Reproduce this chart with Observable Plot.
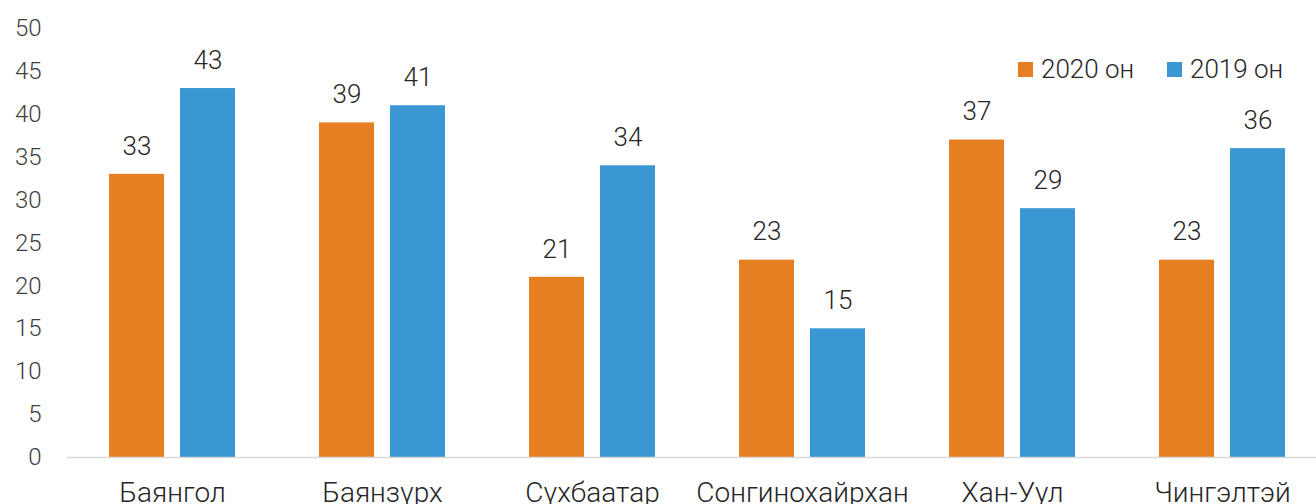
<!DOCTYPE html>
<html>
<head>
<meta charset="utf-8">
<script src="https://cdn.jsdelivr.net/npm/d3@7"></script>
<script src="https://cdn.jsdelivr.net/npm/@observablehq/plot@0.6"></script>
<style>
  html, body { margin: 0; padding: 0; background: #fff; }
  #wrap { position: relative; width: 1316px; height: 504px; overflow: hidden; font-family: Roboto, sans-serif; }
  .leg { position: absolute; top: 54px; display: flex; align-items: center; font-size: 26px; color: #262626; font-weight: 300; }
  .sw { width: 15px; height: 15px; margin-right: 8px; }
</style>
</head>
<body>
<div id="wrap"></div>
<script>
const categories = ["Баянгол", "Баянзүрх", "Сүхбаатар", "Сонгинохайрхан", "Хан-Уул", "Чингэлтэй"];
const seriesNames = ["2020 он", "2019 он"];
const values2020 = [33, 39, 21, 23, 37, 23];
const values2019 = [43, 41, 34, 15, 29, 36];
const yTicks = [0, 5, 10, 15, 20, 25, 30, 35, 40, 45, 50];
const colors = ["#E67E22", "#3B97D3"];

const data = [];
categories.forEach((c, i) => {
  data.push({cat: c, series: seriesNames[0], value: values2020[i]});
  data.push({cat: c, series: seriesNames[1], value: values2019[i]});
});

const chart = Plot.plot({
  width: 1316,
  height: 504,
  marginLeft: 66,
  marginRight: -12,
  marginTop: 28,
  marginBottom: 47,
  style: {fontFamily: "Roboto, sans-serif", background: "#fff", color: "#404040"},
  fx: {domain: categories, padding: 0, label: null},
  x: {domain: seriesNames, paddingInner: 0.219, paddingOuter: 0.576, axis: null},
  y: {domain: [0, 50], label: null},
  color: {domain: seriesNames, range: colors},
  marks: [
    Plot.axisY({ticks: yTicks, tickSize: 0, tickPadding: 26, fontSize: 24, label: null, fill: "#404040", fontWeight: 300}),
    Plot.axisFx({anchor: "bottom", tickSize: 0, tickPadding: 25, fontSize: 28, label: null, fill: "#262626", fontWeight: 300}),
    Plot.barY(data, {fx: "cat", x: "series", y: "value", fill: "series"}),
    Plot.ruleY([0], {stroke: "#d9d9d9", strokeWidth: 1.5}),
    Plot.text(data, {fx: "cat", x: "series", y: "value", text: d => String(d.value), dy: -28, fontSize: 26, fill: "#262626", fontWeight: 300})
  ]
});

const wrap = document.getElementById("wrap");
wrap.appendChild(chart);

const legPos = [1018, 1167];
seriesNames.forEach((s, i) => {
  const d = document.createElement("div");
  d.className = "leg";
  d.style.left = legPos[i] + "px";
  d.innerHTML = `<span class="sw" style="background:${colors[i]}"></span><span>${s}</span>`;
  wrap.appendChild(d);
});
</script>
</body>
</html>
